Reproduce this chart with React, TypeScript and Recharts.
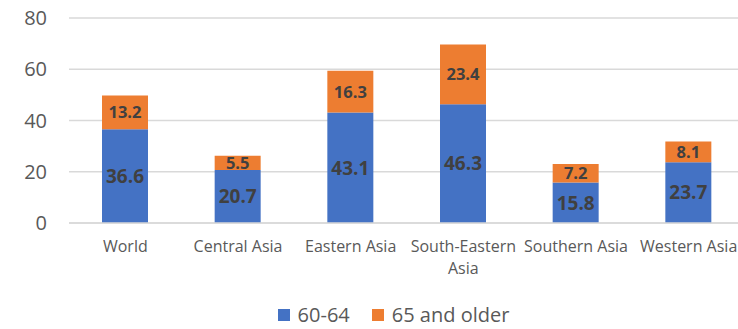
import React from "react";
import { BarChart, Bar, XAxis, YAxis, CartesianGrid, Legend, LabelList } from "recharts";

const categories = ["World", "Central Asia", "Eastern Asia", "South-Eastern Asia", "Southern Asia", "Western Asia"];
const age6064 = [36.6, 20.7, 43.1, 46.3, 15.8, 23.7];
const age65plus = [13.2, 5.5, 16.3, 23.4, 7.2, 8.1];
const yTicks = [0, 20, 40, 60, 80];
const seriesNames = ["60-64", "65 and older"];
const colors = ["#4472C4", "#ED7D31"];

const data = categories.map((c, i) => ({ name: c, a: age6064[i], b: age65plus[i] }));

const FONT = "'Open Sans', sans-serif";

const XTick = (props: any) => {
  const { x, y, payload } = props;
  const label: string = payload.value;
  let lines = [label];
  if (label.length > 14) {
    const idx = label.lastIndexOf(" ");
    lines = [label.slice(0, idx), label.slice(idx + 1)];
  }
  return (
    <g transform={`translate(${x},${y})`}>
      {lines.map((l, i) => (
        <text key={i} x={0} y={0} dy={21 + i * 22} textAnchor="middle" fill="#595959" fontSize={16} fontFamily={FONT}>
          {l}
        </text>
      ))}
    </g>
  );
};

const LegendContent = () => (
  <div style={{ display: "flex", justifyContent: "center", alignItems: "center", height: 20, fontFamily: FONT, fontSize: 20, color: "#595959", paddingLeft: 42 }}>
    {seriesNames.map((n, i) => (
      <div key={n} style={{ display: "flex", alignItems: "center", marginRight: i === 0 ? 22 : 0 }}>
        <div style={{ width: 12, height: 12, background: colors[i], marginRight: 8 }} />
        <span style={{ lineHeight: "20px" }}>{n}</span>
      </div>
    ))}
  </div>
);

export default function App() {
  return (
    <div style={{ position: "absolute", left: 0, top: 0, width: 738, height: 329, overflow: "hidden", background: "#fff" }}>
      <BarChart width={745} height={329} data={data} margin={{ top: 18, right: 0, left: 0, bottom: 4 }}>
        <CartesianGrid vertical={false} stroke="#d9d9d9" strokeWidth={1.5} />
        <XAxis dataKey="name" height={82} tick={<XTick />} tickLine={false} axisLine={{ stroke: "#d9d9d9", strokeWidth: 1.5 }} interval={0} />
        <YAxis width={69} domain={[0, 80]} ticks={yTicks} tickLine={false} axisLine={false} tickSize={0} tickMargin={22}
          tick={{ fill: "#595959", fontSize: 20, fontFamily: FONT }} />
        <Legend verticalAlign="bottom" content={<LegendContent />} />
        <Bar dataKey="a" name={seriesNames[0]} stackId="s" fill={colors[0]} barSize={46} isAnimationActive={false}>
          <LabelList dataKey="a" position="center" fill="#404040" fontSize={19} fontWeight="bold" fontFamily={FONT} />
        </Bar>
        <Bar dataKey="b" name={seriesNames[1]} stackId="s" fill={colors[1]} barSize={46} isAnimationActive={false}>
          <LabelList dataKey="b" position="center" fill="#404040" fontSize={16.5} fontWeight="bold" fontFamily={FONT} />
        </Bar>
      </BarChart>
    </div>
  );
}
